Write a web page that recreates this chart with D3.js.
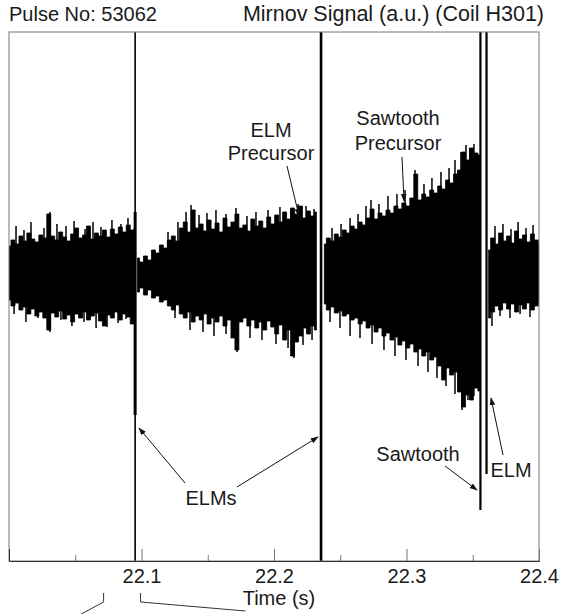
<!DOCTYPE html>
<html>
<head>
<meta charset="utf-8">
<script src="https://cdn.jsdelivr.net/npm/d3@7"></script>
<style>
  body { margin: 0; background: #fff; }
  text { font-family: "Liberation Sans", Arial, sans-serif; fill: #1a1a1a; }
</style>
</head>
<body>
<div id="chart"></div>
<script>
// Mirnov coil signal, pulse 53062 - envelope of the trace
// times in s, amplitude in arbitrary units

var sampleStep = 0.003;

// before first ELM
var seg1Start = 22.000;
var seg1Upper = [1.45, 1.75, 1.55, 1.95, 1.7, 2.1, 1.8, 1.65, 2.0, 1.85, 3.05, 1.95, 1.75, 2.15, 1.9, 1.7,
  2.05, 2.35, 1.85, 2.0, 2.45, 1.8, 2.1, 1.95, 2.25, 1.9, 2.3, 2.05, 2.4, 2.15, 2.5, 2.25];
var seg1Lower = [-1.25, -1.55, -1.4, -1.75, -1.6, -1.95, -1.7, -2.05, -1.85, -2.15, -2.75, -1.9, -2.1, -1.8, -2.2, -2.0,
  -2.35, -1.95, -2.15, -1.85, -2.25, -2.05, -1.9, -2.3, -2.55, -2.0, -2.15, -1.85, -2.25, -1.95, -2.1, -2.45];

// between the two ELMs (ELM precursor growing)
var seg2Start = 22.097;
var seg2Upper = [0.85, 0.65, 0.95, 0.75, 1.25, 1.1, 1.5, 1.35, 1.75, 1.95, 1.7, 2.35, 2.65, 2.15, 3.25, 2.35,
  2.55, 2.2, 2.75, 2.3, 2.6, 2.15, 2.85, 2.4, 2.65, 3.05, 2.35, 2.5, 2.2, 2.8, 2.45, 2.7,
  2.35, 2.9, 2.55, 3.0, 2.65, 3.15, 2.8, 3.35, 3.05, 3.45, 2.85, 3.2, 2.95, 3.15];
var seg2Lower = [-0.85, -0.65, -1.0, -0.75, -1.15, -1.05, -1.35, -1.25, -1.55, -1.75, -1.5, -1.95, -2.15, -1.85, -2.35, -2.05,
  -2.25, -1.95, -2.45, -2.15, -2.35, -2.05, -2.55, -2.25, -3.15, -3.75, -2.35, -2.15, -2.55, -2.25, -2.65, -2.35,
  -2.75, -2.3, -2.6, -2.95, -2.5, -3.25, -2.75, -4.05, -3.35, -3.05, -2.65, -2.95, -2.55, -2.75];

// after second ELM (sawtooth precursor)
var seg3Start = 22.238;
var seg3Upper = [1.55, 1.85, 1.7, 2.05, 1.9, 2.25, 2.1, 2.45, 2.3, 2.65, 2.5, 2.85, 3.3, 2.8, 3.1, 2.95,
  3.25, 3.1, 3.45, 3.3, 3.6, 3.45, 3.85, 5.05, 3.75, 4.05, 3.9, 4.25, 4.1, 4.45, 4.3, 4.75,
  4.6, 5.05, 5.25, 6.15, 5.75, 6.35, 6.1];
var seg3Lower = [-1.45, -1.75, -1.6, -1.9, -1.8, -2.05, -1.95, -2.25, -2.15, -2.45, -2.3, -2.65, -2.5, -2.85, -2.65, -3.05,
  -2.9, -3.25, -3.1, -3.5, -3.3, -3.65, -3.45, -3.85, -3.7, -4.05, -3.85, -4.25, -4.1, -4.55, -5.25, -4.65,
  -5.0, -4.85, -5.85, -6.6, -6.0, -6.25, -5.65];

// after sawtooth crash + ELM
var seg4Start = 22.362;
var seg4Upper = [1.25, 1.85, 1.55, 2.1, 1.7, 1.95, 1.6, 2.2, 1.8, 2.0, 1.65, 2.05, 1.75, 1.55];
var seg4Lower = [-2.15, -1.85, -1.55, -1.75, -1.4, -1.7, -1.45, -1.85, -1.5, -1.7, -1.4, -1.75, -1.55, -1.35];

// isolated needles sticking out of the envelope
var needleUpTimes = [22.0053, 22.0113, 22.0166, 22.0264, 22.0309, 22.0362, 22.0430, 22.0491, 22.0574, 22.0634, 22.0694, 22.0777, 22.0845, 22.0898,
  22.1200, 22.1275, 22.1336, 22.1374, 22.1434, 22.1494, 22.1562, 22.1638, 22.1713, 22.1796, 22.1864, 22.1955, 22.2045, 22.2128, 22.2181, 22.2242, 22.2302,
  22.2438, 22.2506, 22.2574, 22.2634, 22.2694, 22.2732, 22.2792, 22.2860, 22.2928, 22.2989, 22.3064, 22.3132, 22.3192, 22.3260, 22.3321, 22.3366, 22.3411, 22.3449, 22.3479, 22.3509,
  22.3668, 22.3728, 22.3789, 22.3842, 22.3902, 22.3955];
var needleUpValues = [2.45, 2.25, 2.65, 2.35, 3.15, 2.55, 2.45, 2.7, 2.3, 2.65, 2.4, 2.75, 2.55, 2.85,
  2.15, 2.65, 3.15, 3.5, 3.0, 3.1, 3.25, 3.05, 3.35, 2.95, 3.15, 3.25, 3.4, 3.2, 3.55, 3.45, 3.3,
  2.35, 2.55, 2.85, 3.05, 3.45, 3.75, 3.55, 3.95, 4.05, 4.25, 5.25, 4.55, 4.85, 5.15, 5.35, 5.75, 6.15, 6.5, 6.35, 6.55,
  2.45, 2.55, 2.3, 2.65, 2.35, 2.5];
var needleDownTimes = [22.0038, 22.0128, 22.0219, 22.0309, 22.0392, 22.0475, 22.0566, 22.0657, 22.0740, 22.0823, 22.0883,
  22.1253, 22.1366, 22.1464, 22.1547, 22.1638, 22.1721, 22.1819, 22.1909, 22.2015, 22.2106, 22.2151, 22.2219, 22.2287,
  22.2423, 22.2498, 22.2574, 22.2649, 22.2740, 22.2830, 22.2913, 22.2996, 22.3087, 22.3162, 22.3230, 22.3298, 22.3366, 22.3419, 22.3464, 22.3509,
  22.3645, 22.3706, 22.3781, 22.3857, 22.3932];
var needleDownValues = [-1.95, -2.35, -2.15, -2.85, -2.25, -2.55, -2.35, -2.65, -2.6, -2.4, -2.2,
  -2.15, -2.75, -2.85, -3.05, -2.95, -3.85, -3.15, -3.25, -3.45, -3.65, -4.15, -3.5, -3.25,
  -2.35, -2.65, -3.05, -3.15, -3.45, -3.75, -4.05, -4.25, -4.55, -4.85, -5.15, -5.55, -5.95, -6.75, -6.25, -6.05,
  -2.55, -2.05, -2.15, -1.95, -2.1];

// events: ELM, ELM, sawtooth, ELM (spikes run off the top of the plot)
var eventTimes = [22.0952, 22.2355, 22.3558, 22.3604];
var eventTop = [12.15, 12.15, 12.15, 12.15];
var eventBottom = [-14.3, -14.3, -11.75, -9.95];
// first ELM burst (thicker part of the spike)
var burstTime = 22.0952;
var burstRange = [3.15, -7.0];

var majorTicks = [22.1, 22.2, 22.3, 22.4];
var minorTicks = [22.05, 22.15, 22.25, 22.35];
// zoom window marked below the time axis
var zoomWindow = [22.0714, 22.0993];

var svgWidth = 561;
var svgHeight = 614;
var margin = { top: 32, right: 22, bottom: 53, left: 9 };
var width = svgWidth - margin.left - margin.right;
var height = svgHeight - margin.top - margin.bottom;

var svg = d3.select("#chart")
  .append("svg")
  .attr("width", svgWidth)
  .attr("height", svgHeight);

var chartGroup = svg.append("g")
  .attr("transform", `translate(${margin.left}, ${margin.top})`);

var xScale = d3.scaleLinear().domain([22.0, 22.4]).range([0, width]);
var yScale = d3.scaleLinear().domain([-14.3, 12.15]).range([height, 0]);

svg.append("defs").append("marker")
  .attr("id", "arrow")
  .attr("viewBox", "0 0 10 10")
  .attr("refX", 9)
  .attr("refY", 5)
  .attr("markerWidth", 8)
  .attr("markerHeight", 8)
  .attr("markerUnits", "userSpaceOnUse")
  .attr("orient", "auto")
  .append("path")
  .attr("d", "M0,1.5 L10,5 L0,8.5 Z")
  .attr("fill", "#111");

chartGroup.append("clipPath").attr("id", "plotClip")
  .append("rect").attr("width", width).attr("height", height);

var plot = chartGroup.append("g").attr("clip-path", "url(#plotClip)");

// build sample rows for each segment
function toRows(start, upper, lower) {
  return upper.map(function(u, i) {
    return { t: start + i * sampleStep, hi: u, lo: lower[i] };
  });
}
var segments = [
  toRows(seg1Start, seg1Upper, seg1Lower),
  toRows(seg2Start, seg2Upper, seg2Lower),
  toRows(seg3Start, seg3Upper, seg3Lower),
  toRows(seg4Start, seg4Upper, seg4Lower)
];
// last segment runs to the end of the window
segments[3].push({ t: 22.4, hi: seg4Upper[seg4Upper.length - 1], lo: seg4Lower[seg4Lower.length - 1] });
// join segments across the ELM / sawtooth gaps
segments[0].push({ t: burstTime, hi: 2.3, lo: -2.4 });
segments[2].push({ t: eventTimes[2], hi: 6.0, lo: -5.8 });

var area = d3.area()
  .curve(d3.curveStep)
  .x(d => xScale(d.t))
  .y0(d => yScale(d.lo))
  .y1(d => yScale(d.hi));

plot.selectAll(".signal")
  .data(segments)
  .enter()
  .append("path")
  .attr("class", "signal")
  .attr("d", area)
  .attr("fill", "#000")
  .attr("stroke", "#000")
  .attr("stroke-width", 0.8);

// needles
plot.selectAll(".needle-up")
  .data(needleUpTimes)
  .enter()
  .append("line")
  .attr("class", "needle-up")
  .attr("x1", d => xScale(d)).attr("x2", d => xScale(d))
  .attr("y1", yScale(0))
  .attr("y2", (d, i) => yScale(needleUpValues[i]))
  .attr("stroke", "#000")
  .attr("stroke-width", 1.5);

plot.selectAll(".needle-down")
  .data(needleDownTimes)
  .enter()
  .append("line")
  .attr("class", "needle-down")
  .attr("x1", d => xScale(d)).attr("x2", d => xScale(d))
  .attr("y1", yScale(0))
  .attr("y2", (d, i) => yScale(needleDownValues[i]))
  .attr("stroke", "#000")
  .attr("stroke-width", 1.5);

var eventWidths = [1.6, 2.6, 2.2, 2.2];
plot.selectAll(".event")
  .data(eventTimes)
  .enter()
  .append("line")
  .attr("class", "event")
  .attr("x1", d => xScale(d))
  .attr("x2", d => xScale(d))
  .attr("y1", (d, i) => yScale(eventTop[i]))
  .attr("y2", (d, i) => yScale(eventBottom[i]))
  .attr("stroke", "#000")
  .attr("stroke-width", (d, i) => eventWidths[i]);

plot.append("line")
  .attr("x1", xScale(burstTime)).attr("x2", xScale(burstTime))
  .attr("y1", yScale(burstRange[0])).attr("y2", yScale(burstRange[1]))
  .attr("stroke", "#000")
  .attr("stroke-width", 3);

// frame
chartGroup.append("rect")
  .attr("x", 0).attr("y", 0)
  .attr("width", width).attr("height", height)
  .attr("fill", "none")
  .attr("stroke", "#777")
  .attr("stroke-width", 1);

// time axis
var xAxis = chartGroup.append("g")
  .attr("transform", `translate(0, ${height})`)
  .call(d3.axisBottom(xScale).tickValues(majorTicks).tickSize(-12).tickPadding(8).tickFormat(d3.format(".1f")));
xAxis.select(".domain").attr("stroke", "#333");
xAxis.selectAll(".tick line").attr("stroke", "#777");
xAxis.selectAll("text").attr("font-size", "20px").attr("font-family", "Liberation Sans, Arial, sans-serif").attr("fill", "#1a1a1a");

var minorAxis = chartGroup.append("g")
  .attr("transform", `translate(0, ${height})`)
  .call(d3.axisBottom(xScale).tickValues(minorTicks).tickSize(-6).tickFormat(""));
minorAxis.select(".domain").remove();
minorAxis.selectAll(".tick line").attr("stroke", "#777");

chartGroup.append("text")
  .attr("x", xScale(22.2) + 5)
  .attr("y", height + 44)
  .attr("text-anchor", "middle")
  .attr("font-size", "20px")
  .text("Time (s)");

// titles
svg.append("text")
  .attr("x", 9).attr("y", 21)
  .attr("font-size", "20px")
  .text("Pulse No: 53062");
svg.append("text")
  .attr("x", 544).attr("y", 21)
  .attr("text-anchor", "end")
  .attr("font-size", "21.5px")
  .text("Mirnov Signal (a.u.) (Coil H301)");

// annotations, positions in svg pixels
var labels = [
  { x: 271, y: 137, t: "ELM" },
  { x: 271, y: 160, t: "Precursor" },
  { x: 398, y: 125, t: "Sawtooth" },
  { x: 398, y: 150, t: "Precursor" },
  { x: 211, y: 505, t: "ELMs" },
  { x: 418, y: 461, t: "Sawtooth" },
  { x: 511, y: 477, t: "ELM" }
];
svg.selectAll(".note")
  .data(labels)
  .enter()
  .append("text")
  .attr("class", "note")
  .attr("x", d => d.x)
  .attr("y", d => d.y)
  .attr("text-anchor", "middle")
  .attr("font-size", "20px")
  .text(d => d.t);

var arrows = [
  [287, 166, 299, 216],
  [402, 157, 404, 201],
  [185, 483, 139, 428],
  [237, 487, 318, 437],
  [445, 466, 477, 490],
  [503, 455, 491, 398]
];
svg.selectAll(".arrow")
  .data(arrows)
  .enter()
  .append("line")
  .attr("class", "arrow")
  .attr("x1", d => d[0]).attr("y1", d => d[1])
  .attr("x2", d => d[2]).attr("y2", d => d[3])
  .attr("stroke", "#111")
  .attr("stroke-width", 1)
  .attr("marker-end", "url(#arrow)");

// leader lines to the zoomed panel below
var xl = margin.left + xScale(zoomWindow[0]);
var xr = margin.left + xScale(zoomWindow[1]);
svg.append("path")
  .attr("d", `M${xl},593 L${xl},602 L${xl - 26},616`)
  .attr("fill", "none").attr("stroke", "#333").attr("stroke-width", 1);
svg.append("path")
  .attr("d", `M${xr},593 L${xr},602 L${xr + 105},611`)
  .attr("fill", "none").attr("stroke", "#333").attr("stroke-width", 1);
</script>
</body>
</html>
